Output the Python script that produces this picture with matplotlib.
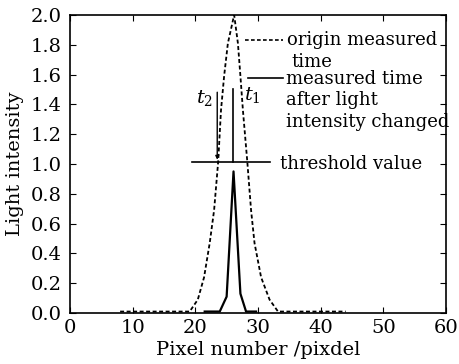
import numpy as np
import matplotlib.pyplot as plt

plt.rcParams['font.family'] = ['DejaVu Serif']
plt.rcParams['mathtext.fontset'] = 'dejavuserif'

# origin measured time (dashed)
x_origin = [8, 14, 19.1, 20.4, 21.4, 22.3, 23.0, 23.65, 24.1, 24.6, 25.2, 26.2,
            26.8, 27.2, 27.6, 28.3, 28.9, 29.45, 30.5, 31.85, 33.2, 38, 44]
y_origin = [0.01, 0.01, 0.01, 0.09, 0.24, 0.47, 0.69, 1.015, 1.36, 1.59, 1.81, 2.0,
            1.81, 1.59, 1.36, 1.015, 0.69, 0.47, 0.24, 0.09, 0.01, 0.01, 0.01]

# measured time after light intensity changed (solid)
x_changed = [21.5, 23.9, 25.0, 26.1, 27.2, 28.1, 29.7]
y_changed = [0.01, 0.01, 0.11, 0.95, 0.13, 0.01, 0.01]

threshold = 1.01

fig = plt.figure(figsize=(4.59, 3.64), dpi=100)
ax = fig.add_axes([0.1525, 0.14, 0.819, 0.819])

ax.plot(x_origin, y_origin, 'k--', lw=1.3, dashes=(2.2, 1.4))
ax.plot(x_changed, y_changed, 'k-', lw=1.6)

# threshold line
ax.plot([19.4, 31.9], [threshold, threshold], 'k-', lw=1.2)
ax.text(33.5, 1.0, 'threshold value', fontsize=13, va='center')

# t1 / t2 markers
ax.plot([26.05, 26.05], [threshold, 1.5], 'k-', lw=1.2)
ax.annotate('', xy=(23.5, threshold), xytext=(23.5, 1.5),
            arrowprops=dict(arrowstyle='-|>', color='k', lw=1.0, mutation_scale=5))
ax.text(21.5, 1.44, '$t_2$', fontsize=14, ha='center', va='center')
ax.text(29.1, 1.46, '$t_1$', fontsize=14, ha='center', va='center')

# legend-like labels
ax.plot([27.9, 34.0], [1.83, 1.83], 'k--', lw=1.2, dashes=(2.2, 1.4))
ax.text(34.7, 1.83, 'origin measured', fontsize=13, va='center')
ax.text(35.4, 1.685, 'time', fontsize=13, va='center')
ax.plot([28.4, 34.0], [1.58, 1.58], 'k-', lw=1.2)
ax.text(34.4, 1.572, 'measured time', fontsize=13, va='center')
ax.text(34.4, 1.43, 'after light', fontsize=13, va='center')
ax.text(34.4, 1.284, 'intensity changed', fontsize=13, va='center')

ax.set_xlim(0, 60)
ax.set_ylim(0, 2.0)
ax.set_xticks(np.arange(0, 61, 10))
ax.set_yticks(np.arange(0, 2.01, 0.2))
ax.set_yticklabels([f'{v:.1f}' for v in np.arange(0, 2.01, 0.2)])
ax.tick_params(direction='in', top=True, right=True, labelsize=14, length=4)
ax.tick_params(axis='x', pad=4)
ax.tick_params(axis='y', pad=6)
ax.set_xlabel('Pixel number /pixdel', fontsize=14, labelpad=3)
ax.set_ylabel('Light intensity', fontsize=14, labelpad=5)
for s in ax.spines.values():
    s.set_linewidth(1.2)

fig.savefig('out.png', dpi=100)
